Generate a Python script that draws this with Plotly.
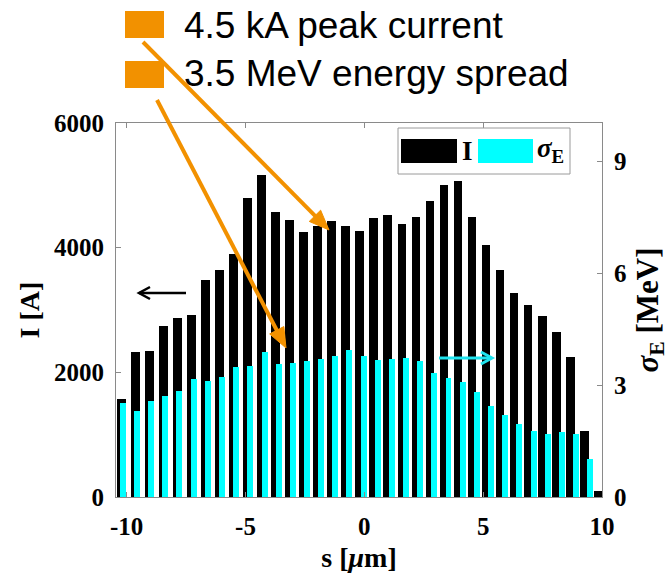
import math
import plotly.graph_objects as go

# ---------------- data ----------------
s_current = [-10.23, -9.64, -9.05, -8.46, -7.87, -7.28, -6.69, -6.10, -5.51, -4.92,
             -4.33, -3.73, -3.14, -2.55, -1.96, -1.37, -0.78, -0.19, 0.40, 0.99,
             1.58, 2.17, 2.76, 3.35, 3.94, 4.53, 5.12, 5.71, 6.30, 6.89,
             7.49, 8.08, 8.67, 9.26, 9.85]
current_A = [1580, 2320, 2340, 2740, 2870, 2920, 3480, 3640, 3905, 4790,
             5165, 4580, 4445, 4245, 4340, 4435, 4355, 4275, 4475, 4520,
             4380, 4495, 4745, 5010, 5070, 4500, 4035, 3635, 3270, 3080,
             2900, 2650, 2240, 1060, 95]

s_sigma = [-10.16, -9.56, -8.97, -8.37, -7.78, -7.18, -6.59, -5.99, -5.39, -4.80,
           -4.20, -3.61, -3.01, -2.41, -1.82, -1.22, -0.63, -0.03, 0.56, 1.16,
           1.76, 2.35, 2.95, 3.54, 4.14, 4.74, 5.33, 5.93, 6.52, 7.12,
           7.71, 8.31, 8.91, 9.50]
sigma_MeV = [2.52, 2.30, 2.58, 2.71, 2.84, 3.17, 3.11, 3.23, 3.49, 3.51,
             3.88, 3.56, 3.60, 3.65, 3.69, 3.77, 3.94, 3.77, 3.68, 3.69,
             3.73, 3.65, 3.32, 3.20, 3.09, 2.82, 2.45, 2.19, 1.95, 1.77,
             1.68, 1.73, 1.68, 1.01]

x_tickvals = [-10, -5, 0, 5, 10]
x_ticktext = ["-10", "-5", "0", "5", "10"]
y_tickvals = [0, 2000, 4000, 6000]
y_ticktext = ["0", "2000", "4000", "6000"]
y2_tickvals = [0, 3, 6, 9]
y2_ticktext = ["0", "3", "6", "9"]

note_lines = ["4.5 kA peak current", "3.5 MeV energy spread"]

# ---------------- layout helpers ----------------
W, H = 672, 575
ML, MR, MT, MB = 116, 70, 123, 78
PW, PH = W - ML - MR, H - MT - MB


def px(x):
    return (x - ML) / PW


def py(y):
    return (H - MB - y) / PH


SERIF = "Liberation Serif, Times New Roman, serif"
SANS = "Liberation Sans, Arial, sans-serif"
AX_GRAY = "#8a8a8a"
ORANGE = "#F29100"
CYAN = "#00FFFF"

tick_font = dict(family=SERIF, size=25, color="black", weight="bold")
title_font = dict(family=SERIF, size=28, color="black")

fig = go.Figure()
fig.add_trace(go.Bar(x=s_current, y=current_A, width=0.37, name="I",
                     marker=dict(color="black", line=dict(width=0)),
                     yaxis="y", showlegend=False))
fig.add_trace(go.Bar(x=s_sigma, y=sigma_MeV, width=0.25, name="σ_E",
                     marker=dict(color=CYAN, line=dict(width=0)),
                     yaxis="y2", showlegend=False))

axis_common = dict(ticks="inside", ticklen=5, tickcolor=AX_GRAY, showline=True,
                   linecolor=AX_GRAY, linewidth=1, showgrid=False, zeroline=False,
                   tickfont=tick_font)

fig.update_layout(
    width=W, height=H,
    margin=dict(l=ML, r=MR, t=MT, b=MB, autoexpand=False),
    paper_bgcolor="white", plot_bgcolor="white",
    barmode="overlay", bargap=0,
    xaxis=dict(range=[-10.45, 10.0], tickvals=x_tickvals, ticktext=x_ticktext,
               mirror="ticks", ticklabelstandoff=7,
               title=dict(text="<b>s [<i>μ</i>m]</b>", font=title_font, standoff=8),
               **axis_common),
    yaxis=dict(range=[0, 6000], tickvals=y_tickvals, ticktext=y_ticktext,
               ticklabelstandoff=6,
               title=dict(text="<b>I [A]</b>", font=title_font, standoff=6),
               **axis_common),
    yaxis2=dict(range=[0, 10.03], tickvals=y2_tickvals, ticktext=y2_ticktext,
                overlaying="y", side="right", ticklabelstandoff=6,
                title=dict(text="<b><i>σ</i><sub>E</sub> [MeV]</b>",
                           font=dict(family=SERIF, size=31, color="black"),
                           standoff=10),
                **axis_common),
)

shapes = []
# custom legend box
shapes.append(dict(type="rect", xref="paper", yref="paper",
                   x0=px(398), x1=px(570), y0=py(174), y1=py(128),
                   fillcolor="white", line=dict(color="#9a9a9a", width=1), layer="above"))
shapes.append(dict(type="rect", xref="paper", yref="paper",
                   x0=px(401), x1=px(457), y0=py(163), y1=py(139),
                   fillcolor="black", line=dict(width=0), layer="above"))
shapes.append(dict(type="rect", xref="paper", yref="paper",
                   x0=px(478), x1=px(533), y0=py(163), y1=py(139),
                   fillcolor=CYAN, line=dict(width=0), layer="above"))
# orange squares for the notes
for y0, y1 in [(11, 38), (61, 88)]:
    shapes.append(dict(type="rect", xref="paper", yref="paper",
                       x0=px(125), x1=px(164), y0=py(y1), y1=py(y0),
                       fillcolor=ORANGE, line=dict(width=0), layer="above"))


def arrow_shapes(tail, tip, color, width, head_len, head_half, filled):
    dx, dy = tip[0] - tail[0], tip[1] - tail[1]
    L = math.hypot(dx, dy)
    ux, uy = dx / L, dy / L
    nx, ny = -uy, ux
    bx, by = tip[0] - ux * head_len, tip[1] - uy * head_len
    lx, ly = bx + nx * head_half, by + ny * head_half
    rx, ry = bx - nx * head_half, by - ny * head_half
    out = []
    end = (bx + ux * 2, by + uy * 2) if filled else tip
    out.append(dict(type="line", xref="paper", yref="paper",
                    x0=px(tail[0]), y0=py(tail[1]), x1=px(end[0]), y1=py(end[1]),
                    line=dict(color=color, width=width), layer="above"))
    if filled:
        path = (f"M {px(lx)},{py(ly)} L {px(tip[0])},{py(tip[1])} "
                f"L {px(rx)},{py(ry)} Z")
        out.append(dict(type="path", xref="paper", yref="paper", path=path,
                        fillcolor=color, line=dict(color=color, width=1), layer="above"))
    else:
        path = (f"M {px(lx)},{py(ly)} L {px(tip[0])},{py(tip[1])} "
                f"L {px(rx)},{py(ry)}")
        out.append(dict(type="path", xref="paper", yref="paper", path=path,
                        line=dict(color=color, width=width), layer="above"))
    return out


shapes += arrow_shapes((143, 42), (329, 230), ORANGE, 4, 20, 8, True)
shapes += arrow_shapes((157, 100), (286, 348), ORANGE, 4, 20, 8, True)
shapes += arrow_shapes((186, 293), (139, 293), "black", 2.5, 11, 6, False)
shapes += arrow_shapes((439, 358), (492, 358), "#1FE3EE", 3, 11, 6, False)
fig.update_layout(shapes=shapes)

ann = []
ann.append(dict(xref="paper", yref="paper", x=px(460), y=py(151), text="<b>I</b>",
                showarrow=False, xanchor="left", yanchor="middle",
                font=dict(family=SERIF, size=27, color="black")))
ann.append(dict(xref="paper", yref="paper", x=px(535), y=py(150),
                text="<b><i>σ</i><sub>E</sub></b>",
                showarrow=False, xanchor="left", yanchor="middle",
                font=dict(family=SERIF, size=27, color="black")))
for txt, yc in zip(note_lines, [25, 74]):
    ann.append(dict(xref="paper", yref="paper", x=px(182), y=py(yc), text=txt,
                    showarrow=False, xanchor="left", yanchor="middle",
                    font=dict(family=SANS, size=37, color="black")))
fig.update_layout(annotations=ann)

fig.write_html("out.html")
